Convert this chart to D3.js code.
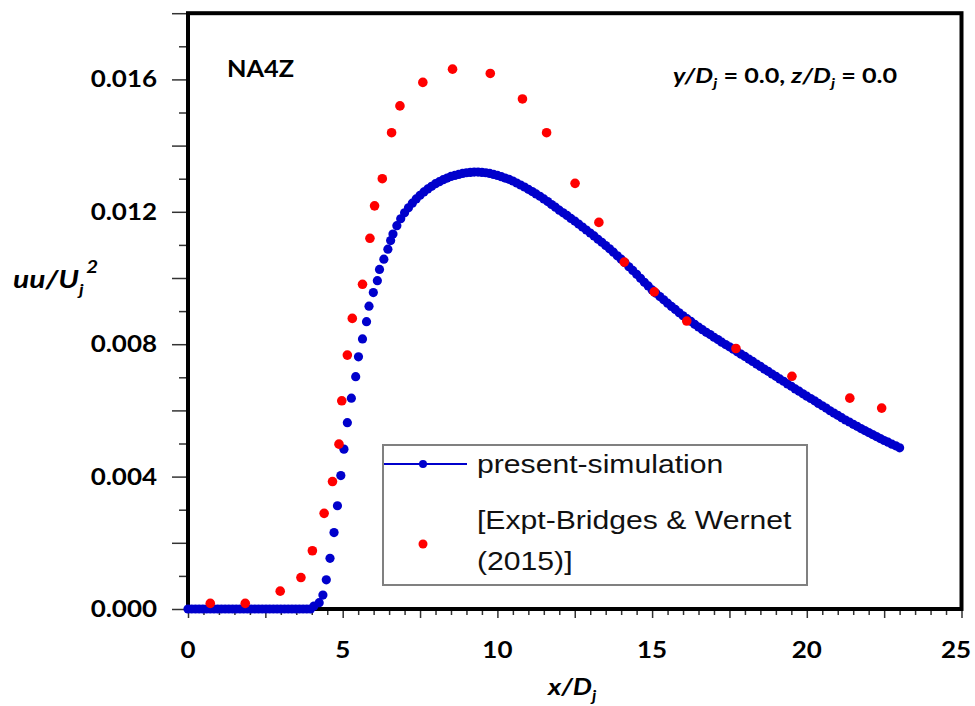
<!DOCTYPE html>
<html>
<head>
<meta charset="utf-8">
<script src="https://cdn.jsdelivr.net/npm/d3@7"></script>
<style>
  body { margin: 0; background: #fff; }
  svg { display: block; }
</style>
</head>
<body>
<svg id="chart" width="975" height="706"></svg>
<script>
// Simulated streamwise normal stress along the jet centreline
const simX = [
  0, 0.12, 0.24, 0.36, 0.48, 0.6, 0.72, 0.84, 0.96, 1.08, 1.2, 1.32, 1.44, 1.56, 1.68, 1.8, 1.92,
  2.04, 2.16, 2.28, 2.4, 2.52, 2.64, 2.76, 2.88, 3.0, 3.12, 3.24, 3.36, 3.48, 3.6, 3.72, 3.84, 3.96,
  4.07, 4.24, 4.36, 4.47, 4.59, 4.72, 4.83, 4.94, 5.04, 5.15, 5.28, 5.42, 5.51, 5.64, 5.77, 5.85,
  5.99, 6.12, 6.19, 6.33, 6.46, 6.55,
  6.625, 6.75, 6.875, 7, 7.125, 7.25, 7.375, 7.5, 7.625, 7.75, 7.875, 8, 8.125, 8.25, 8.375, 8.5,
  8.625, 8.75, 8.875, 9, 9.125, 9.25, 9.375, 9.5, 9.625, 9.75, 9.875, 10, 10.125, 10.25, 10.375, 10.5,
  10.625, 10.75, 10.875, 11, 11.125, 11.25, 11.375, 11.5, 11.625, 11.75, 11.875, 12, 12.125, 12.25,
  12.375, 12.5, 12.625, 12.75, 12.875, 13, 13.125, 13.25, 13.375, 13.5, 13.625, 13.75, 13.875, 14,
  14.125, 14.25, 14.375, 14.5, 14.625, 14.75, 14.875, 15, 15.125, 15.25, 15.375, 15.5, 15.625, 15.75,
  15.875, 16, 16.125, 16.25, 16.375, 16.5, 16.625, 16.75, 16.875, 17, 17.125, 17.25, 17.375, 17.5,
  17.625, 17.75, 17.875, 18, 18.125, 18.25, 18.375, 18.5, 18.625, 18.75, 18.875, 19, 19.125, 19.25,
  19.375, 19.5, 19.625, 19.75, 19.875, 20, 20.125, 20.25, 20.375, 20.5, 20.625, 20.75, 20.875, 21,
  21.125, 21.25, 21.375, 21.5, 21.625, 21.75, 21.875, 22, 22.125, 22.25, 22.375, 22.5, 22.625, 22.75,
  22.875, 23
];
const simY = [
  0, 0, 0, 0, 0, 0, 0, 0, 0, 0, 0, 0, 0, 0, 0, 0, 0,
  0, 0, 0, 0, 0, 0, 0, 0, 0, 0, 0, 0, 0, 0, 0, 0, 0,
  0.00009, 0.00019, 0.00042, 0.00088, 0.00153, 0.00231, 0.00312, 0.00403, 0.00483, 0.00563, 0.00637,
  0.00702, 0.00762, 0.00816, 0.00868, 0.00915, 0.00956, 0.00992, 0.01026, 0.01057, 0.01087, 0.01113,
  0.01133, 0.01158, 0.01179, 0.01197, 0.01212, 0.01226, 0.01239, 0.01250, 0.01260, 0.01269, 0.01277, 0.01285,
  0.01291, 0.01297, 0.01302, 0.01307, 0.01310, 0.01313, 0.01316, 0.01318, 0.01319, 0.01320, 0.01320, 0.01319,
  0.01318, 0.01316, 0.01313, 0.01310, 0.01306, 0.01302, 0.01298, 0.01293, 0.01287, 0.01281, 0.01275, 0.01268,
  0.01261, 0.01254, 0.01247, 0.01239, 0.01231, 0.01222, 0.01214, 0.01205, 0.01197, 0.01189, 0.01180, 0.01172,
  0.01163, 0.01154, 0.01145, 0.01136, 0.01127, 0.01117, 0.01108, 0.01098, 0.01088, 0.01078, 0.01067, 0.01057,
  0.01046, 0.01034, 0.01023, 0.01011, 0.00999, 0.00987, 0.00976, 0.00964, 0.00954, 0.00944, 0.00934, 0.00924,
  0.00914, 0.00905, 0.00895, 0.00886, 0.00877, 0.00869, 0.00860, 0.00852, 0.00844, 0.00836, 0.00829, 0.00821,
  0.00814, 0.00806, 0.00799, 0.00792, 0.00785, 0.00777, 0.00770, 0.00763, 0.00755, 0.00748, 0.00740, 0.00733,
  0.00725, 0.00718, 0.00710, 0.00703, 0.00695, 0.00688, 0.00680, 0.00673, 0.00665, 0.00658, 0.00650, 0.00643,
  0.00636, 0.00629, 0.00621, 0.00614, 0.00607, 0.00599, 0.00592, 0.00585, 0.00578, 0.00571, 0.00565, 0.00558,
  0.00552, 0.00545, 0.00539, 0.00533, 0.00527, 0.00521, 0.00515, 0.00509, 0.00504, 0.00498, 0.00493, 0.00487
];

// Measured values (Bridges & Wernet, 2015)
const exptX = [
  0.72, 1.85, 2.98, 3.65, 4.02, 4.40, 4.67, 4.88, 4.97, 5.15, 5.31, 5.64, 5.88, 6.03, 6.28, 6.58,
  6.85, 7.59, 8.55, 9.77, 10.81, 11.59, 12.51, 13.28, 14.10, 15.07, 16.12, 17.71, 19.52, 21.39, 22.42
];
const exptY = [
  0.00017, 0.00017, 0.00054, 0.00095, 0.00176, 0.00289, 0.00385, 0.00498, 0.00629, 0.00767, 0.00878,
  0.00981, 0.01120, 0.01218, 0.01300, 0.01439, 0.01520, 0.01591, 0.01631, 0.01618, 0.01541, 0.01439,
  0.01286, 0.01168, 0.01048, 0.00958, 0.00870, 0.00787, 0.00703, 0.00637, 0.00607
];

const xTickLabels = [0, 5, 10, 15, 20, 25];
const yTickLabels = ["0.000", "0.004", "0.008", "0.012", "0.016"];
const legendLabels = ["present-simulation", "[Expt-Bridges & Wernet", "(2015)]"];
const caseLabel = "NA4Z";

const BLUE = "#0000cc";
const RED = "#ff0000";
const svg = d3.select("#chart");

const x = d3.scaleLinear().domain([0, 25]).range([188, 961.5]);
const y = d3.scaleLinear().domain([0, 0.018]).range([609, 13.2]);

// text helper: horizontally widened glyphs, as in the original figure
function stretched(parent, px, py, sx) {
  return parent.append("text")
    .attr("transform", `translate(${px},${py}) scale(${sx},1)`);
}

// ---- ticks ----
const xMinor = d3.range(0, 25.01, 0.5).filter(v => Math.abs(v / 2.5 - Math.round(v / 2.5)) > 1e-6);
const xMajor = d3.range(0, 25.01, 2.5);
const yMinor = d3.range(0.001, 0.0181, 0.002);
const yMajor = d3.range(0, 0.0181, 0.002);

function tickStyle(g) {
  g.select(".domain").remove();
  g.selectAll("line").attr("stroke", "#333").attr("stroke-width", 1.5);
  g.selectAll("text").remove();
}
svg.append("g").attr("transform", `translate(0,${y(0)})`)
  .call(d3.axisBottom(x).tickValues(xMinor).tickSize(6).tickFormat("")).call(tickStyle);
svg.append("g").attr("transform", `translate(0,${y(0)})`)
  .call(d3.axisBottom(x).tickValues(xMajor).tickSize(9).tickFormat("")).call(tickStyle);
svg.append("g").attr("transform", `translate(${x(0)},0)`)
  .call(d3.axisLeft(y).tickValues(yMinor).tickSize(9).tickFormat("")).call(tickStyle);
svg.append("g").attr("transform", `translate(${x(0)},0)`)
  .call(d3.axisLeft(y).tickValues(yMajor).tickSize(16).tickFormat("")).call(tickStyle);

// ---- tick labels ----
const tickFont = "Lato, 'Open Sans', sans-serif";
xTickLabels.forEach((v, i) => {
  const px = Math.min(x(v), 956);
  stretched(svg, px, 658, 1.18)
    .attr("text-anchor", "middle")
    .attr("font-family", tickFont).attr("font-weight", 700).attr("font-size", 22)
    .attr("fill", "#000").text(v);
});
yTickLabels.forEach(s => {
  stretched(svg, 157, y(+s) + 8, 1.18)
    .attr("text-anchor", "end")
    .attr("font-family", tickFont).attr("font-weight", 700).attr("font-size", 22)
    .attr("fill", "#000").text(s);
});

// ---- frame ----
svg.append("rect")
  .attr("x", x(0)).attr("y", y(0.018))
  .attr("width", x(25) - x(0)).attr("height", y(0) - y(0.018))
  .attr("fill", "none").attr("stroke", "#000").attr("stroke-width", 4);

// ---- axis titles ----
const yt = stretched(svg, 13, 288, 1.2)
  .attr("font-family", tickFont).attr("font-weight", 700).attr("font-style", "italic")
  .attr("font-size", 25).attr("fill", "#000");
yt.append("tspan").text("uu/U");
yt.append("tspan").attr("font-size", 16).attr("dy", 7).text("j");
yt.append("tspan").attr("font-size", 17).attr("dy", -22).attr("dx", 2).text("2");

const xt = stretched(svg, 548, 695, 1.18)
  .attr("font-family", tickFont).attr("font-weight", 700).attr("font-style", "italic")
  .attr("font-size", 23).attr("fill", "#000");
xt.append("tspan").text("x/D");
xt.append("tspan").attr("font-size", 15).attr("dy", 6).text("j");

// ---- annotations ----
stretched(svg, 227, 77, 1.1)
  .attr("font-family", tickFont).attr("font-weight", 700).attr("font-size", 23)
  .attr("fill", "#000").text(caseLabel);

const ann = stretched(svg, 673, 83, 1.2)
  .attr("font-family", tickFont).attr("font-weight", 700).attr("font-size", 21).attr("fill", "#000");
ann.append("tspan").attr("font-style", "italic").text("y/D");
ann.append("tspan").attr("font-style", "italic").attr("font-size", 14).attr("dy", 5).text("j");
ann.append("tspan").attr("dy", -5).text(" = 0.0, ");
ann.append("tspan").attr("font-style", "italic").text("z/D");
ann.append("tspan").attr("font-style", "italic").attr("font-size", 14).attr("dy", 5).text("j");
ann.append("tspan").attr("dy", -5).text(" = 0.0");

// ---- data ----
const simData = simX.map((v, i) => [v, simY[i]]);
const exptData = exptX.map((v, i) => [v, exptY[i]]);

svg.append("g").selectAll("circle").data(simData).join("circle")
  .attr("cx", d => x(d[0])).attr("cy", d => y(d[1]))
  .attr("r", 4.6).attr("fill", BLUE);

svg.append("g").selectAll("circle").data(exptData).join("circle")
  .attr("cx", d => x(d[0])).attr("cy", d => y(d[1]))
  .attr("r", 4.8).attr("fill", RED);

// ---- legend ----
const lg = svg.append("g");
lg.append("rect").attr("x", 383).attr("y", 445).attr("width", 424).attr("height", 140)
  .attr("fill", "#fff").attr("stroke", "#808080").attr("stroke-width", 2);
lg.append("line").attr("x1", 384).attr("x2", 467).attr("y1", 464).attr("y2", 464)
  .attr("stroke", BLUE).attr("stroke-width", 2);
lg.append("circle").attr("cx", 423).attr("cy", 464).attr("r", 4).attr("fill", BLUE);
lg.append("circle").attr("cx", 423).attr("cy", 544).attr("r", 4.5).attr("fill", RED);
const legFont = "'Liberation Sans', Arial, sans-serif";
[[473, 0], [529, 1], [570, 2]].forEach(([py, i]) => {
  stretched(lg, 477, py, 1.16)
    .attr("font-family", legFont).attr("font-size", 26).attr("fill", "#111")
    .text(legendLabels[i]);
});
</script>
</body>
</html>
